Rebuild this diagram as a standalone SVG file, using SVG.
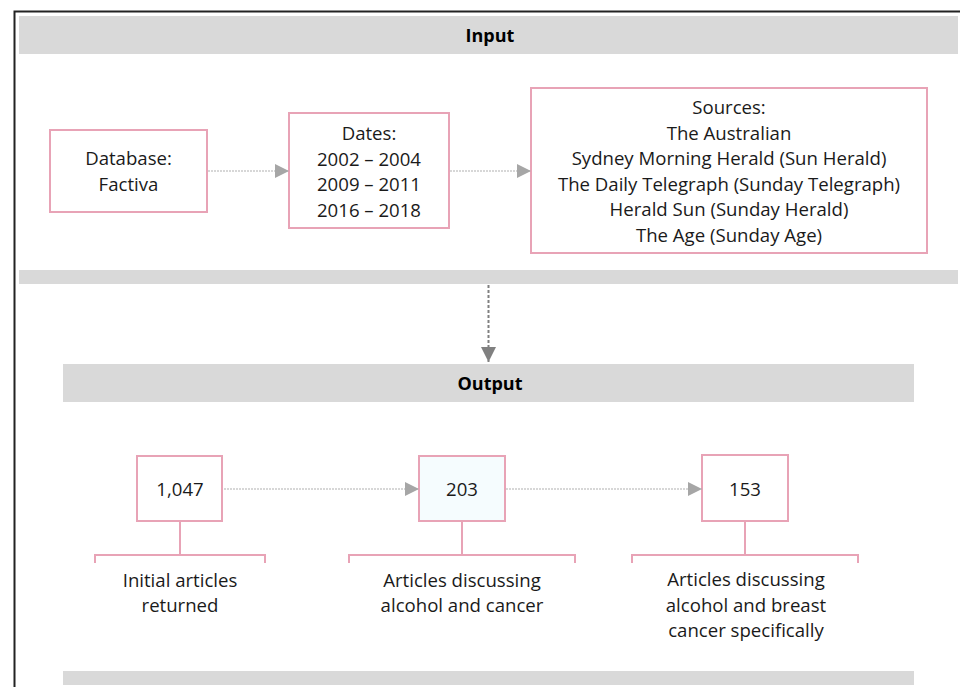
<svg xmlns="http://www.w3.org/2000/svg" width="960" height="687" viewBox="0 0 960 687">
<defs>
<style>
.bar{fill:#d9d9d9}
.box{fill:#ffffff;stroke:#e8a3b6;stroke-width:2}
.txt{font-family:"Open Sans","Liberation Sans",Arial,sans-serif;font-size:18.6px;fill:#1a1a1a;text-anchor:middle}
.hdr{font-family:"Open Sans","Liberation Sans",Arial,sans-serif;font-size:18px;font-weight:bold;fill:#000;text-anchor:middle}
.conn{stroke:#b0b0b0;stroke-width:1.2;stroke-dasharray:2 1;fill:none}
.vconn{stroke:#808080;stroke-width:2;stroke-dasharray:3 2;fill:none}
.brk{stroke:#e8a3b6;stroke-width:2;fill:none}
</style>
<marker id="ah" viewBox="0 0 10 10" refX="10" refY="5" markerWidth="14" markerHeight="14" markerUnits="userSpaceOnUse" orient="auto">
<path d="M0,0 L10,5 L0,10 Z" fill="#a6a6a6"/>
</marker>
<marker id="ahd" viewBox="0 0 10 10" refX="10" refY="5" markerWidth="15" markerHeight="15" markerUnits="userSpaceOnUse" orient="auto">
<path d="M0,0 L10,5 L0,10 Z" fill="#808080"/>
</marker>
</defs>
<rect x="0" y="0" width="960" height="687" fill="#ffffff"/>
<path d="M14.5,687 L14.5,11.5 L960,11.5" fill="none" stroke="#222" stroke-width="2"/>

<g id="input-header">
<rect class="bar" x="19" y="16" width="939" height="38"/>
<text class="hdr" x="490" y="42">Input</text>
</g>
<rect class="bar" x="19" y="270" width="939" height="14"/>

<g id="database">
<rect class="box" x="50" y="130" width="157" height="82"/>
<text class="txt" x="128.5" y="165">Database:</text>
<text class="txt" x="128.5" y="191">Factiva</text>
</g>
<g id="dates">
<rect class="box" x="289" y="113" width="160" height="115"/>
<text class="txt" x="369" y="140">Dates:</text>
<text class="txt" x="369" y="166">2002 – 2004</text>
<text class="txt" x="369" y="191">2009 – 2011</text>
<text class="txt" x="369" y="217">2016 – 2018</text>
</g>
<g id="sources">
<rect class="box" x="531" y="88" width="396" height="165"/>
<text class="txt" x="729" y="114">Sources:</text>
<text class="txt" x="729" y="140">The Australian</text>
<text class="txt" x="729" y="165">Sydney Morning Herald (Sun Herald)</text>
<text class="txt" x="729" y="191">The Daily Telegraph (Sunday Telegraph)</text>
<text class="txt" x="729" y="216">Herald Sun (Sunday Herald)</text>
<text class="txt" x="729" y="242">The Age (Sunday Age)</text>
</g>

<g id="output-header">
<rect class="bar" x="63" y="364" width="851" height="38"/>
<text class="hdr" x="490" y="390">Output</text>
</g>
<rect class="bar" x="63" y="671" width="851" height="14"/>

<g id="n1047">
<rect class="box" x="137" y="456" width="85" height="65"/>
<text class="txt" x="180" y="496">1,047</text>
<path class="brk" d="M180,521 V555 M95,563 V555 H265 V563"/>
<text class="txt" x="180" y="587">Initial articles</text>
<text class="txt" x="180" y="612">returned</text>
</g>
<g id="n203">
<rect class="box" x="419" y="456" width="86" height="65" style="fill:#f5fcfe"/>
<text class="txt" x="462" y="496">203</text>
<path class="brk" d="M462,521 V555 M349,563 V555 H575 V563"/>
<text class="txt" x="462" y="587">Articles discussing</text>
<text class="txt" x="462" y="612">alcohol and cancer</text>
</g>
<g id="n153">
<rect class="box" x="702" y="455" width="86" height="66"/>
<text class="txt" x="745" y="496">153</text>
<path class="brk" d="M745,521 V555 M632,563 V555 H858 V563"/>
<text class="txt" x="746" y="586">Articles discussing</text>
<text class="txt" x="746" y="612">alcohol and breast</text>
<text class="txt" x="746" y="637">cancer specifically</text>
</g>

<g id="connectors">
<line class="conn" x1="208" y1="171" x2="289" y2="171" marker-end="url(#ah)"/>
<line class="conn" x1="450" y1="171" x2="531" y2="171" marker-end="url(#ah)"/>
<line class="vconn" x1="488.5" y1="285" x2="488.5" y2="362" marker-end="url(#ahd)"/>
<line class="conn" x1="224" y1="489" x2="419" y2="489" marker-end="url(#ah)"/>
<line class="conn" x1="506" y1="489" x2="702" y2="489" marker-end="url(#ah)"/>
</g>
</svg>
